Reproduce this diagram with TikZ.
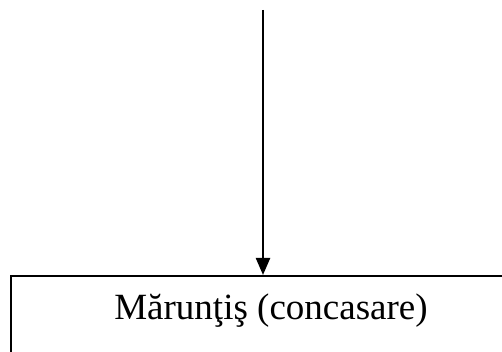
\documentclass[tikz,border=0pt]{standalone}
\usepackage{fontspec}
\setmainfont{Liberation Serif}
\usetikzlibrary{arrows.meta}
\begin{document}
\begin{tikzpicture}[x=1pt,y=1pt,
  boxstyle/.style={draw=black, line width=2.3pt, minimum width=530pt, minimum height=150pt, anchor=north west, inner sep=0pt},
  lblstyle/.style={anchor=base, inner sep=0pt, font=\fontsize{37}{44}\selectfont},
  arrowstyle/.style={line width=2.3pt, -{Triangle[length=17pt,width=14pt]}}]
\useasboundingbox (0,0) rectangle (502,352);
\clip (0,0) rectangle (502,352);
\node[boxstyle] (box) at (10,77) {};
\node[lblstyle] (lbl) at (271,32) {Mărunţiş (concasare)};
\coordinate (top) at (263,342);
\draw[arrowstyle] (top) -- (top |- box.north);
\end{tikzpicture}
\end{document}
